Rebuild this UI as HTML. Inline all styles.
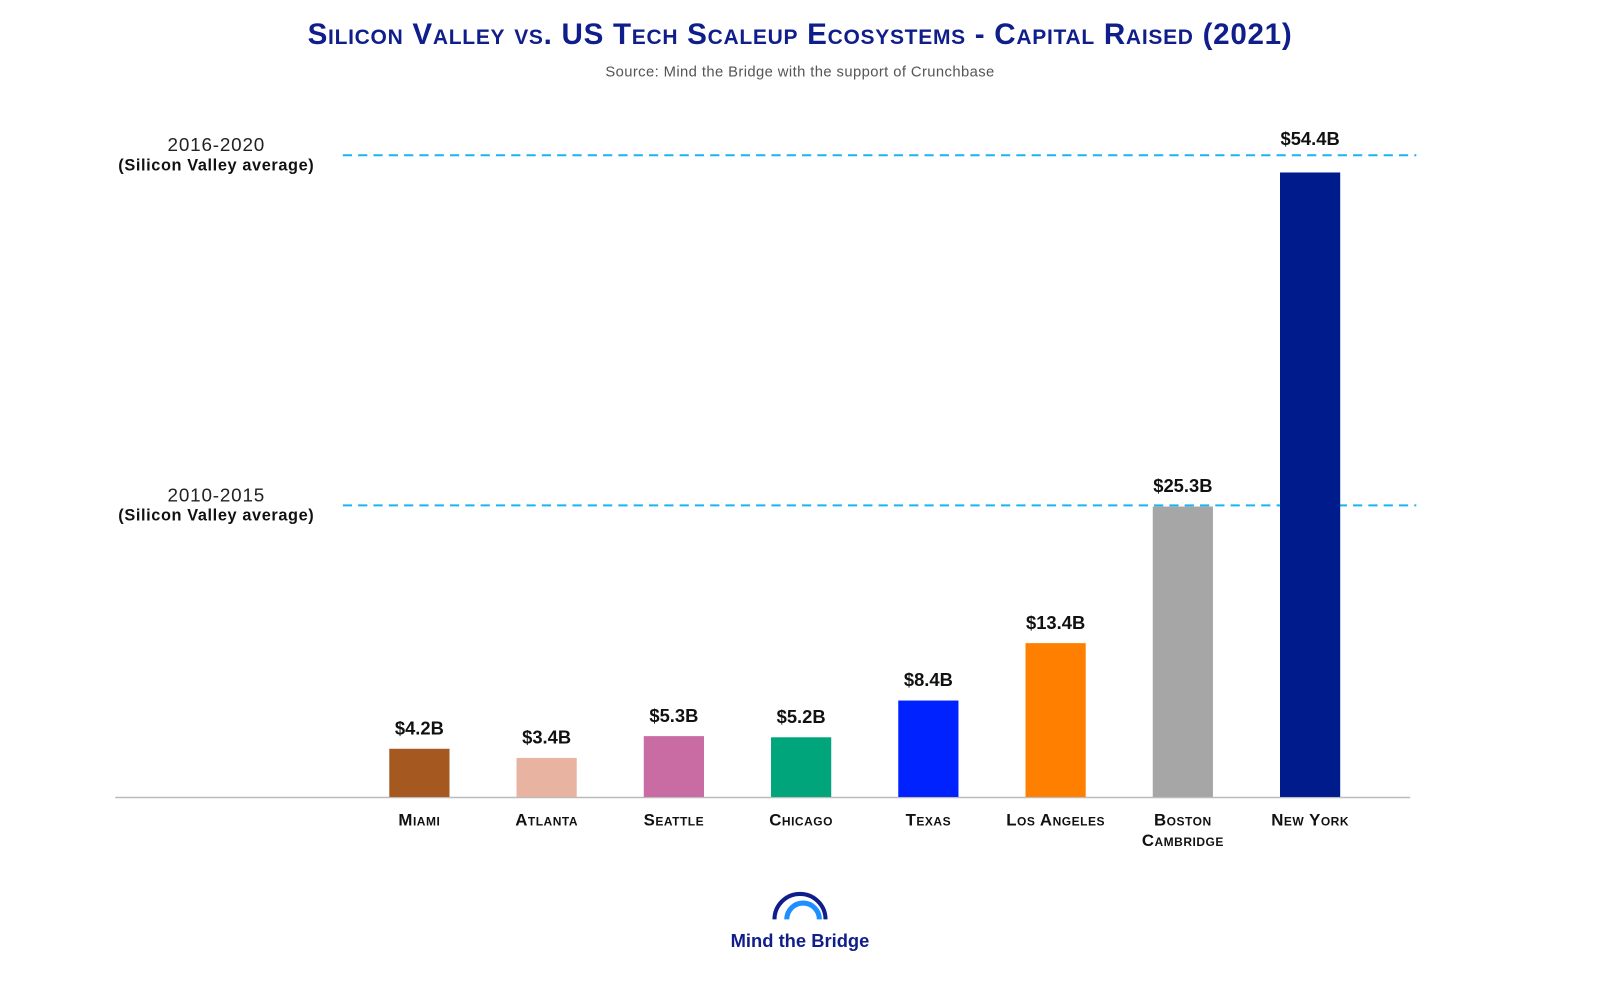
<!DOCTYPE html>
<html><head><meta charset="utf-8"><style>
body{margin:0;background:#fff;width:1600px;height:982px;overflow:hidden;font-family:"Liberation Sans",sans-serif}
</style></head><body>
<svg width="1600" height="982" viewBox="0 0 1568 962.3">
<text x="784" y="43" text-anchor="middle" font-size="29" font-weight="bold" fill="#0f1e8a" style="font-variant:small-caps;letter-spacing:0.7px">Silicon Valley vs. US Tech Scaleup Ecosystems - Capital Raised (2021)</text>
<text x="784" y="75" text-anchor="middle" font-size="14.5" fill="#555" style="letter-spacing:0.4px">Source: Mind the Bridge with the support of Crunchbase</text>
<g id="refs"></g>
<line x1="113" y1="781.5" x2="1382" y2="781.5" stroke="#bbb" stroke-width="1.5"/>
<g id="bars"></g>
<g>
<path d="M759 901 A25 25 0 0 1 809 901" fill="none" stroke="#0f1e8a" stroke-width="4"/>
<path d="M771 901 A16 16 0 0 1 803 901" fill="none" stroke="#1e8fff" stroke-width="5"/>
<text x="784" y="928" text-anchor="middle" font-size="18" font-weight="bold" fill="#0f1e8a">Mind the Bridge</text>
</g>
</svg>
<script>
const categories=["Miami","Atlanta","Seattle","Chicago","Texas","Los Angeles","Boston|Cambridge","New York"];
const values=[4.2,3.4,5.3,5.2,8.4,13.4,25.3,54.4];
const valueLabels=["$4.2B","$3.4B","$5.3B","$5.2B","$8.4B","$13.4B","$25.3B","$54.4B"];
const colors=["#a5581f","#e9b3a1","#c86ca3","#00a57b","#0022ff","#ff7f00","#a6a6a6","#001c8c"];
const refValues=[55.9,25.4];
const refYears=["2016-2020","2010-2015"];
const NS="http://www.w3.org/2000/svg";
const y=v=>781-v*11.25;
const x=i=>411+i*124.7;
function mk(t,a,p){const e=document.createElementNS(NS,t);for(const k in a)e.setAttribute(k,a[k]);p.appendChild(e);return e;}
const refs=document.getElementById('refs');
refValues.forEach((v,i)=>{
 const l=mk('line',{x1:336,x2:1388,y1:y(v),y2:y(v),stroke:'#1ab4f0','stroke-width':2,'stroke-dasharray':'9 6'},refs);
 
 
 const t=mk('text',{x:212,y:y(v)-4,'text-anchor':'middle','font-size':18.5,fill:'#222',style:'letter-spacing:0.8px'},refs);t.textContent=refYears[i];
 
 
 const t2=mk('text',{x:212,y:y(v)+15,'text-anchor':'middle','font-size':16,'font-weight':'bold',fill:'#111',style:'letter-spacing:0.6px'},refs);t2.textContent='(Silicon Valley average)';
 
 
});
const topLine=Math.max(...refValues);
const g=document.getElementById('bars');
categories.forEach((c,i)=>{
 const r=mk('rect',{x:x(i)-29.5,y:y(values[i]),width:59,height:781-y(values[i]),fill:colors[i]},g);
 
 
 let ly=y(values[i])-14;
 if(ly>y(topLine)-30&&ly<y(topLine)+20) ly=y(topLine)-10;
 const t=mk('text',{x:x(i),y:ly,'text-anchor':'middle','font-size':18,'font-weight':'bold',fill:'#111'},g);t.textContent=valueLabels[i];
 
 
 c.split('|').forEach((p,j)=>{
  const tl=mk('text',{x:x(i),y:809+j*20,'text-anchor':'middle','font-size':16.5,'font-weight':'bold',fill:'#111',style:'font-variant:small-caps;letter-spacing:0.5px'},g);tl.textContent=p;
  
  
 });
});
</script>
</body></html>
